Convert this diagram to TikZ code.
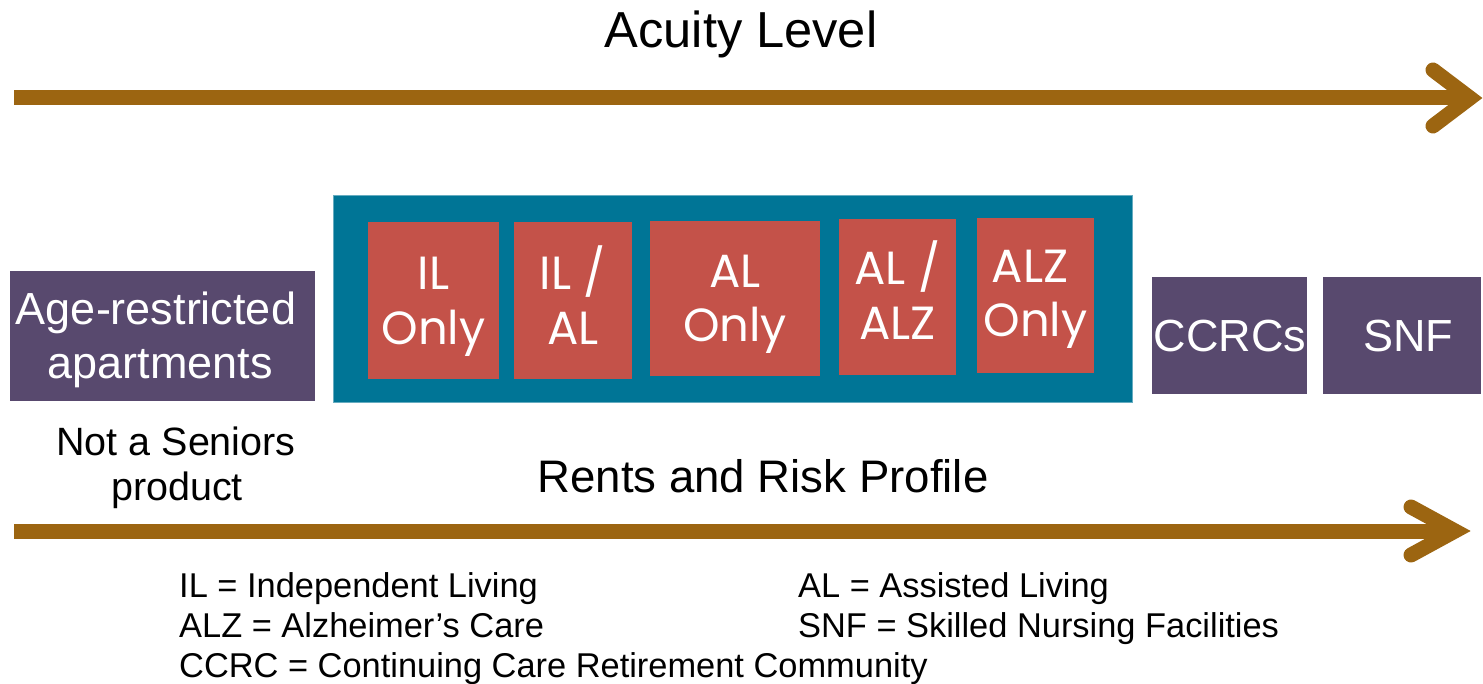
\documentclass[tikz,border=0pt]{standalone}
\usepackage{fontspec}
\setmainfont{Liberation Sans}
\newfontfamily\geofont{Poppins}

\definecolor{shaftbrown}{RGB}{156,101,17}
\definecolor{bandteal}{RGB}{0,117,150}
\definecolor{tilered}{RGB}{196,82,73}
\definecolor{tilepurple}{RGB}{88,73,110}

\tikzset{
  box/.style={draw=none, inner sep=0pt, outer sep=0pt},
  band/.style={box, fill=bandteal, draw=bandteal!60!white, line width=0.8pt},
  redtile/.style={box, fill=tilered},
  purpletile/.style={box, fill=tilepurple},
  redtext/.style={inner sep=0pt, anchor=base, text=white, font=\geofont\fontsize{46.5}{54}\selectfont},
  purpletext/.style={inner sep=0pt, anchor=base, text=white, font=\fontsize{45}{54}\selectfont},
  heading/.style={inner sep=0pt, anchor=base, text=black},
  legend/.style={inner sep=0pt, anchor=base west, text=black, font=\fontsize{34.4}{40}\selectfont},
  shaft/.style={draw=shaftbrown, line width=15pt, line cap=butt},
  chevron/.style={draw=shaftbrown, line width=15pt, line cap=round, line join=miter},
}

\begin{document}
\begin{tikzpicture}[x=1pt, y=-1pt]
\useasboundingbox (0,0) rectangle (1483,684);

% headings
\node[heading, font=\fontsize{50.6}{60}\selectfont] (acuity) at (741,48) {Acuity Level};
\node[heading, font=\fontsize{45.6}{54}\selectfont] (rents) at (763,492) {Rents and Risk Profile};
\node[heading, font=\fontsize{39.5}{45}\selectfont] (notA) at (176,455) {Not a Seniors};
\node[heading, font=\fontsize{39.5}{45}\selectfont] (notB) at (177,500) {product};

% acuity arrow
\coordinate (acuityStart) at (14,98);
\coordinate (acuityEnd) at (1462,98);
\coordinate (acuityTop) at (1433,70);
\coordinate (acuityTip) at (1470,98);
\coordinate (acuityBot) at (1433,126);
\draw[shaft] (acuityStart) -- (acuityEnd);
\draw[chevron] (acuityTop) -- (acuityTip) -- (acuityBot);

% rents arrow
\coordinate (rentsStart) at (14,531);
\coordinate (rentsEnd) at (1448,531);
\coordinate (rentsTop) at (1411,507);
\coordinate (rentsTip) at (1455,531);
\coordinate (rentsBot) at (1411,555);
\draw[shaft] (rentsStart) -- (rentsEnd);
\draw[chevron] (rentsTop) -- (rentsTip) -- (rentsBot);

% seniors housing band and its tiles
\node[band, minimum width=799, minimum height=207] (band) at (732.5,298.5) {};
\node[redtile, minimum width=131, minimum height=157] (ilonly) at (433.5,300.5) {};
\node[redtile, minimum width=118, minimum height=157] (ilal) at (573,300.5) {};
\node[redtile, minimum width=170, minimum height=155] (alonly) at (735,298.5) {};
\node[redtile, minimum width=117, minimum height=156] (alalz) at (897.5,297) {};
\node[redtile, minimum width=117, minimum height=155] (alzonly) at (1035.5,295.5) {};

\node[redtext] (ilonlyA) at (ilonly.center |- 0,290) {IL};
\node[redtext] (ilonlyB) at (ilonly.center |- 0,345) {Only};
\node[redtext] (ilalA) at (ilal.center |- 0,290) {IL /};
\node[redtext] (ilalB) at (ilal.center |- 0,345) {AL};
\node[redtext] (alonlyA) at (alonly.center |- 0,288) {AL};
\node[redtext] (alonlyB) at (alonly.center |- 0,342) {Only};
\node[redtext] (alalzA) at (alalz.center |- 0,285) {AL /};
\node[redtext] (alalzB) at (alalz.center |- 0,340) {ALZ};
\node[redtext] (alzonlyA) at (1030,283) {ALZ};
\node[redtext] (alzonlyB) at (alzonly.center |- 0,337) {Only};

% outer tiles
\node[purpletile, minimum width=305, minimum height=130] (agebox) at (162.5,336) {};
\node[purpletile, minimum width=155, minimum height=117] (ccrcbox) at (1229.5,335.5) {};
\node[purpletile, minimum width=158, minimum height=117] (snfbox) at (1402,335.5) {};

\node[purpletext] (ageA) at (156,325) {Age-restricted};
\node[purpletext] (ageB) at (160,378) {apartments};
\node[purpletext] (ccrcA) at (1230,352) {CCRCs};
\node[purpletext] (snfA) at (1408,352) {SNF};

% abbreviations
\node[legend] (legIL) at (179,597) {IL = Independent Living};
\node[legend] (legALZ) at (179,637) {ALZ = Alzheimer’s Care};
\node[legend] (legCCRC) at (179,677) {CCRC = Continuing Care Retirement Community};
\node[legend] (legAL) at (798,597) {AL = Assisted Living};
\node[legend] (legSNF) at (798,637) {SNF = Skilled Nursing Facilities};
\end{tikzpicture}
\end{document}
